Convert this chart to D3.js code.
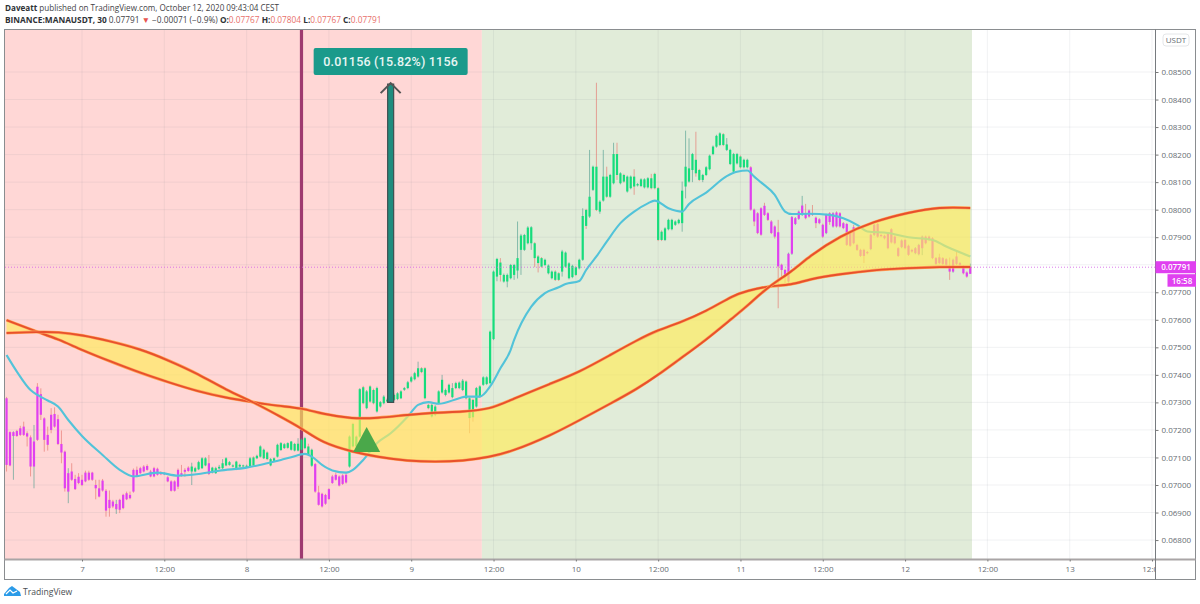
<!DOCTYPE html>
<html>
<head>
<meta charset="utf-8">
<script src="https://cdn.jsdelivr.net/npm/d3@7"></script>
<style>
	html, body { margin: 0; padding: 0; background: #fff; }
	svg { display: block; }
	text { font-family: "Open Sans", "Liberation Sans", sans-serif; }
	.tick text { fill: #666c72; font-size: 8px; }
	.tick line { stroke: #777; }
	.domain { display: none; }
</style>
</head>
<body>
<div id="target_area"></div>
<script>
// prices are in ticks (0.00001 USDT), bars are 30 minute candles counted from the left edge
var opens = [
	7315,7192,7178,7196,7206,7212,7188,7173,7067,7357,
	7330,7242,7182,7255,7258,7239,7149,7121,6976,7049,
	7022,7030,7019,7045,7045,7045,7000,6988,7016,6979,
	6946,6940,6912,6946,6964,6970,6964,7055,7055,7061,
	7067,7069,7049,7061,7059,7046,7039,7028,7013,7013,
	7055,7043,7055,7063,7049,7049,7057,7061,7071,7079,
	7045,7043,7060,7061,7071,7073,7067,7057,7067,7068,
	7066,7067,7100,7097,7103,7097,7118,7071,7088,7103,
	7127,7134,7135,7128,7125,7125,7128,7134,7140,7070,
	7076,6973,6968,6964,6985,7031,7037,7031,7035,7037,
	7067,7222,7176,7176,7355,7279,7358,7345,7267,7285,
	7297,7303,7305,7309,7312,7315,7346,7352,7376,7384,
	7394,7424,7424,7291,7249,7255,7297,7336,7327,7336,
	7319,7352,7352,7345,7376,7315,7309,7285,7321,7364,
	7367,7370,7530,7757,7808,7739,7739,7751,7763,7779,
	7854,7854,7878,7878,7878,7830,7824,7799,7769,7751,
	7775,7769,7775,7793,7751,7755,7791,7787,7818,7999,
	7975,8072,8156,7993,8033,8120,8047,8096,8202,8096,
	8126,8066,8078,8120,8088,8086,8081,8081,8114,8130,
	8078,7920,7890,7929,7929,7945,7951,7951,8084,8102,
	8144,8181,8144,8108,8126,8147,8202,8229,8235,8274,
	8217,8166,8138,8168,8193,8154,8154,8154,8000,7987,
	8005,8014,7987,7957,7939,7918,7800,7781,7739,7840,
	7948,7967,7981,7987,7997,7987,7971,7965,7945,7915,
	7987,7939,7990,7987,7951,7948,7915,7936,7872,7854,
	7854,7846,7857,7909,7948,7908,7905,7915,7929,7902,
	7860,7864,7890,7869,7854,7842,7838,7860,7902,7902,
	7896,7824,7827,7824,7820,7794,7775,7830,7806,7794,
	7772,7767
];
var closes = [
	7073,7071,7192,7178,7182,7182,7176,7067,7158,7164,
	7255,7164,7146,7200,7212,7149,7118,6988,7043,7019,
	6985,7007,7000,7013,7019,7019,6988,6958,6980,6907,
	6916,6922,6931,6910,6916,6948,6952,6976,7031,7043,
	7049,7055,7031,7031,7037,7039,7043,7013,6979,6979,
	6994,7035,7048,7051,7067,7061,7083,7097,7097,7040,
	7063,7061,7066,7079,7097,7083,7071,7085,7073,7071,
	7070,7097,7071,7106,7140,7128,7094,7094,7097,7146,
	7152,7148,7152,7158,7149,7150,7165,7170,7110,7128,
	6976,6928,6922,6932,6949,7007,7019,6998,7004,7009,
	7176,7140,7140,7348,7297,7340,7303,7297,7352,7301,
	7321,7310,7312,7327,7333,7340,7352,7373,7391,7406,
	7424,7410,7315,7279,7291,7285,7340,7382,7345,7364,
	7352,7370,7372,7379,7315,7243,7246,7352,7358,7391,
	7391,7557,7775,7821,7763,7763,7763,7799,7799,7824,
	7906,7908,7935,7936,7824,7806,7793,7818,7797,7775,
	7745,7745,7848,7844,7805,7796,7763,7818,7977,7941,
	8047,8156,7999,8029,8120,8047,8126,8202,8126,8132,
	8102,8120,8120,8084,8093,8110,8110,8114,8078,8078,
	7890,7890,7932,7963,7963,7957,7963,8069,8156,8150,
	8202,8132,8108,8126,8154,8196,8229,8268,8277,8235,
	8237,8217,8202,8202,8154,8181,8181,8000,7957,7915,
	7909,7981,7963,7915,7902,7794,7781,7757,7840,7973,
	7969,7993,8015,7969,7975,7981,7951,7951,7902,7981,
	7955,7987,7939,7939,7933,7872,7869,7878,7854,7832,
	7832,7842,7909,7945,7902,7904,7896,7860,7881,7878,
	7832,7888,7860,7836,7848,7860,7872,7902,7878,7890,
	7824,7803,7806,7803,7800,7775,7818,7803,7800,7769,
	7757,7791
];
var highs = [
	7320,7195,7195,7200,7215,7230,7195,7180,7218,7370,
	7351,7246,7212,7279,7282,7255,7198,7125,7061,7079,
	7037,7043,7037,7052,7052,7048,7019,7019,7022,6985,
	6980,6946,6946,6950,6968,6976,6976,7060,7067,7066,
	7072,7075,7055,7066,7063,7050,7046,7032,7017,7017,
	7060,7073,7061,7068,7081,7066,7088,7101,7101,7109,
	7066,7066,7073,7094,7101,7087,7075,7088,7077,7074,
	7074,7102,7104,7110,7144,7132,7122,7098,7100,7150,
	7156,7152,7155,7160,7153,7170,7170,7175,7150,7132,
	7080,6997,6972,6968,6988,7037,7045,7035,7039,7042,
	7180,7226,7180,7352,7360,7345,7362,7350,7357,7305,
	7326,7315,7318,7332,7337,7344,7356,7378,7396,7411,
	7448,7428,7428,7295,7295,7290,7344,7400,7350,7368,
	7370,7375,7376,7385,7380,7320,7313,7356,7362,7395,
	7395,7561,7779,7825,7824,7768,7768,7803,7803,7957,
	7912,7912,7940,7940,7882,7835,7828,7822,7801,7779,
	7780,7773,7854,7848,7809,7800,7795,7822,8005,8003,
	8217,8160,8461,8034,8217,8156,8130,8243,8243,8136,
	8130,8124,8124,8147,8097,8114,8114,8118,8130,8134,
	8082,7925,7936,7967,7967,7961,7967,8102,8287,8259,
	8206,8283,8148,8130,8158,8200,8233,8272,8281,8278,
	8260,8221,8206,8206,8197,8185,8185,8158,8004,7991,
	8009,8025,7991,7962,7943,7963,7804,7785,7844,7977,
	7973,7997,8050,8021,8001,8017,7975,7969,7949,7985,
	7991,7991,7994,7991,7955,7952,7919,7945,7876,7858,
	7858,7850,7913,7949,7952,7912,7909,7919,7933,7906,
	7864,7892,7894,7873,7858,7864,7876,7906,7906,7906,
	7900,7828,7840,7828,7824,7826,7822,7852,7810,7798,
	7776,7804
];
var lows = [
	7049,7068,7019,7175,7178,7178,7140,7031,6988,7160,
	7236,7121,7125,7188,7208,7145,7079,6976,6934,7015,
	6982,7003,6996,7010,7015,7015,6948,6955,6976,6885,
	6885,6916,6895,6898,6912,6945,6948,6972,7028,7040,
	7046,7052,7028,7028,7034,7036,7036,7010,6976,6976,
	6985,7030,7030,7048,7000,7046,7054,7058,7068,7036,
	7042,7040,7057,7058,7068,7070,7064,7054,7064,7066,
	7063,7064,7068,7094,7100,7094,7090,7068,7085,7100,
	7124,7131,7132,7125,7122,7122,7125,7130,7105,7066,
	6972,6925,6918,6928,6946,7004,7016,6995,7000,7005,
	7063,7136,7136,7172,7293,7275,7299,7293,7263,7281,
	7293,7300,7300,7305,7308,7312,7342,7348,7372,7380,
	7390,7406,7311,7275,7245,7250,7293,7332,7322,7332,
	7315,7348,7348,7341,7311,7188,7230,7281,7317,7360,
	7363,7366,7526,7740,7739,7735,7718,7747,7745,7750,
	7763,7850,7874,7854,7791,7772,7789,7795,7765,7747,
	7741,7741,7757,7789,7747,7751,7759,7783,7814,7930,
	7970,8068,7995,7985,8029,8043,8043,8092,8108,8092,
	8098,8062,8074,8054,8084,8082,8077,8077,8074,8074,
	7886,7886,7886,7925,7925,7941,7947,7920,8041,8098,
	8100,8120,8104,8100,8122,8143,8198,8225,8231,8231,
	8213,8162,8134,8164,8150,8150,8150,7996,7940,7911,
	7905,7977,7959,7911,7895,7642,7757,7733,7735,7836,
	7944,7963,7977,7965,7971,7977,7933,7947,7898,7911,
	7945,7935,7935,7935,7929,7868,7865,7874,7850,7828,
	7806,7838,7853,7905,7898,7900,7892,7856,7877,7874,
	7828,7860,7856,7832,7844,7838,7834,7835,7874,7886,
	7820,7799,7802,7799,7796,7745,7771,7799,7796,7765,
	7753,7767
];
// runs of bars painted magenta, the others are green
var magentaRuns = [[0, 53], [59, 59], [90, 99], [217, 281]];

var maBars = [0,3,7,9,12,15,18,22,28,33,37,44,50,56,62,70,76,80,83,87,89,92,95,99,101,104,108,112,117,120,123,126,132,134,138,141,144,147,148,153,157,161,163,167,169,172,175,179,183,187,189,193,197,199,204,210,213,216,218,220,224,227,229,234,240,244,248,251,257,263,270,274,281];
var maValues = [7472,7412,7345,7327,7307,7285,7236,7178,7109,7055,7031,7045,7034,7040,7052,7063,7079,7091,7101,7113,7103,7073,7053,7045,7055,7091,7152,7188,7249,7291,7301,7295,7315,7321,7321,7358,7424,7491,7527,7648,7697,7718,7730,7741,7781,7830,7884,7951,7993,8023,8033,8005,7993,8021,8062,8122,8138,8142,8120,8099,8054,7993,7984,7985,7981,7969,7945,7921,7915,7900,7890,7866,7830];

var ribbonBars = [0,9,15,22,30,39,47,56,64,72,79,86,92,101,108,117,125,133,141,147,159,167,176,184,190,196,204,212,216,222,229,234,243,253,263,272,281];
var ribbonFast = [7599,7556,7530,7490,7450,7407,7374,7339,7317,7301,7287,7280,7258,7240,7243,7255,7263,7266,7275,7309,7370,7410,7472,7527,7563,7588,7630,7690,7705,7723,7726,7748,7766,7781,7788,7792,7792];
var ribbonSlow = [7552,7556,7556,7545,7523,7494,7454,7403,7345,7301,7254,7207,7153,7120,7102,7087,7084,7087,7102,7120,7182,7235,7295,7350,7400,7455,7527,7610,7650,7720,7775,7830,7905,7958,7990,8010,8006];

var priceTicks = [6800,6900,7000,7100,7200,7300,7400,7500,7600,7700,7800,7900,8000,8100,8200,8300,8400,8500];
var timeTickBars = [22,46,70,94,118,142,166,190,214,238,262,286,310,334];
var timeTickLabels = ["7","12:00","8","12:00","9","12:00","10","12:00","11","12:00","12","12:00","13","12:00"];

var redZone = [-0.5, 138.6];
var greenZone = [138.6, 281.5];
var signalBar = 86;
var entryBar = 105;
var entryPrice = 7120;
var arrowBar = 112;
var arrowFrom = 7300;
var arrowTo = 8456;
var lastPrice = 7791;

var width = 1200, height = 604;
var plotLeft = 5, plotRight = 1155.5, plotTop = 29.5, plotBottom = 559.5, frameRight = 1195.5, frameBottom = 579.5;

var svg = d3.select("#target_area").append("svg")
	.attr("width", width)
	.attr("height", height);

var x = d3.scaleLinear().domain([22, 334]).range([82, 1152]);
var y = d3.scaleLinear().domain([7000, 8500]).range([485, 72]);

svg.append("clipPath").attr("id", "plot")
	.append("rect").attr("x", plotLeft).attr("y", plotTop).attr("width", plotRight - plotLeft).attr("height", plotBottom - plotTop);
svg.append("clipPath").attr("id", "timeAxis")
	.append("rect").attr("x", plotLeft).attr("y", plotBottom).attr("width", plotRight - plotLeft).attr("height", frameBottom - plotBottom);

var plot = svg.append("g").attr("clip-path", "url(#plot)");

// session backgrounds
plot.append("rect").attr("x", x(redZone[0])).attr("y", plotTop).attr("width", x(redZone[1]) - x(redZone[0])).attr("height", plotBottom - plotTop).attr("fill", "#ffd7d6");
plot.append("rect").attr("x", x(greenZone[0])).attr("y", plotTop).attr("width", x(greenZone[1]) - x(greenZone[0])).attr("height", plotBottom - plotTop).attr("fill", "#e1ecd9");

// grid
plot.selectAll(".hgrid").data(priceTicks).enter().append("line")
	.attr("x1", plotLeft).attr("x2", plotRight)
	.attr("y1", function(d) { return y(d); }).attr("y2", function(d) { return y(d); })
	.attr("stroke", "#7d8a96").attr("stroke-opacity", 0.11);
plot.selectAll(".vgrid").data(timeTickBars).enter().append("line")
	.attr("y1", plotTop).attr("y2", plotBottom)
	.attr("x1", function(d) { return x(d); }).attr("x2", function(d) { return x(d); })
	.attr("stroke", "#7d8a96").attr("stroke-opacity", 0.11);

// signal line sits under the ribbon
plot.append("line")
	.attr("x1", x(signalBar)).attr("x2", x(signalBar)).attr("y1", plotTop).attr("y2", plotBottom)
	.attr("stroke", "#9e3a70").attr("stroke-width", 3.2);

function isMagenta(i) {
	return magentaRuns.some(function(r) { return i >= r[0] && i <= r[1]; });
}

// candles
var candles = plot.append("g");
candles.selectAll(".wick").data(opens).enter().append("line")
	.attr("x1", function(d, i) { return x(i); }).attr("x2", function(d, i) { return x(i); })
	.attr("y1", function(d, i) { return y(highs[i]); })
	.attr("y2", function(d, i) { return y(lows[i]); })
	.attr("stroke", function(d, i) { return closes[i] >= d ? "#4e9e90" : "#e5736a"; })
	.attr("stroke-opacity", 0.7)
	.attr("stroke-width", 0.9);
candles.selectAll(".body").data(opens).enter().append("rect")
	.attr("x", function(d, i) { return x(i) - 1.1; })
	.attr("width", 2.2)
	.attr("y", function(d, i) { return y(Math.max(d, closes[i])); })
	.attr("height", function(d, i) { return Math.max(1, Math.abs(y(d) - y(closes[i]))); })
	.attr("fill", function(d, i) { return isMagenta(i) ? "#e040f0" : "#16dd7c"; });

// moving average
var maLine = d3.line()
	.x(function(d, i) { return x(maBars[i]); })
	.y(function(d) { return y(d); })
	.curve(d3.curveMonotoneX);
plot.append("path").attr("d", maLine(maValues))
	.attr("fill", "none").attr("stroke", "#52c3d9").attr("stroke-width", 2.1);

// last price line
plot.append("line")
	.attr("x1", plotLeft).attr("x2", plotRight).attr("y1", y(lastPrice)).attr("y2", y(lastPrice))
	.attr("stroke", "#d35ce8").attr("stroke-width", 0.8).attr("stroke-dasharray", "1,2");

// ribbon
var ribbon = d3.area()
	.x(function(d, i) { return x(ribbonBars[i]); })
	.y0(function(d) { return y(d); })
	.y1(function(d, i) { return y(ribbonSlow[i]); })
	.curve(d3.curveBasis);
plot.append("path").attr("d", ribbon(ribbonFast))
	.attr("fill", "#ffec5a").attr("fill-opacity", 0.66);

var ribbonLine = d3.line()
	.x(function(d, i) { return x(ribbonBars[i]); })
	.y(function(d) { return y(d); })
	.curve(d3.curveBasis);
[ribbonFast, ribbonSlow].forEach(function(values) {
	plot.append("path").attr("d", ribbonLine(values))
		.attr("fill", "none").attr("stroke", "#ffa65a").attr("stroke-width", 3);
	plot.append("path").attr("d", ribbonLine(values))
		.attr("fill", "none").attr("stroke", "#e8502c").attr("stroke-width", 1.9);
});

// entry triangle
var triX = x(entryBar), triY = y(entryPrice);
plot.append("path")
	.attr("d", "M" + (triX - 13.5) + "," + triY + "L" + triX + "," + (triY - 25) + "L" + (triX + 13.5) + "," + triY + "Z")
	.attr("fill", "#4aa84a");

// measure arrow and its label
var arrowX = x(arrowBar), arrowTop = y(arrowTo);
plot.append("rect")
	.attr("x", arrowX - 3).attr("width", 6)
	.attr("y", arrowTop).attr("height", y(arrowFrom) - arrowTop)
	.attr("fill", "#1f8c7e").attr("stroke", "#3f4f50").attr("stroke-width", 1.2);
plot.append("path")
	.attr("d", "M" + (arrowX - 10) + "," + (arrowTop + 9) + "L" + arrowX + "," + (arrowTop - 1) + "L" + (arrowX + 10) + "," + (arrowTop + 9))
	.attr("fill", "none").attr("stroke", "#555").attr("stroke-width", 2);
plot.append("rect")
	.attr("x", arrowX - 77).attr("y", arrowTop - 36).attr("width", 154).attr("height", 27).attr("rx", 2)
	.attr("fill", "#1a9a8b");
plot.append("text")
	.attr("x", arrowX).attr("y", arrowTop - 18)
	.attr("text-anchor", "middle").attr("fill", "#e8f6f3")
	.style("font-family", "Roboto").style("font-size", "12.5px").style("font-weight", 500).style("letter-spacing", "0.2px")
	.text("0.01156 (15.82%) 1156");

// frame
svg.append("rect").attr("x", 4.5).attr("y", plotTop).attr("width", frameRight - 4.5).attr("height", frameBottom - plotTop)
	.attr("fill", "none").attr("stroke", "#8a8d90").attr("stroke-width", 1);
svg.append("line").attr("x1", 4.5).attr("x2", frameRight).attr("y1", plotBottom).attr("y2", plotBottom)
	.attr("stroke", "#a9a5a6").attr("stroke-width", 1.8);
svg.append("line").attr("x1", plotRight).attr("x2", plotRight).attr("y1", plotTop).attr("y2", frameBottom)
	.attr("stroke", "#777b7f").attr("stroke-width", 1);

// axes
var priceAxis = d3.axisRight(y)
	.tickValues(priceTicks)
	.tickSize(3)
	.tickPadding(3)
	.tickFormat(function(d) { return (d / 100000).toFixed(5); });
svg.append("g").attr("transform", "translate(" + plotRight + ",0)").call(priceAxis);

var timeAxis = d3.axisBottom(x)
	.tickValues(timeTickBars)
	.tickSize(2)
	.tickPadding(5)
	.tickFormat(function(d, i) { return timeTickLabels[i]; });
svg.append("g").attr("clip-path", "url(#timeAxis)")
	.append("g").attr("transform", "translate(0," + plotBottom + ")").call(timeAxis);

// currency box
svg.append("rect").attr("x", 1163).attr("y", 34).attr("width", 26).attr("height", 12).attr("rx", 3)
	.attr("fill", "#fff").attr("stroke", "#e4e6e8");
svg.append("text").attr("x", 1176).attr("y", 43).attr("text-anchor", "middle")
	.attr("fill", "#666c72").style("font-size", "8px").text("USDT");

// last price tags
svg.append("rect").attr("x", plotRight).attr("y", y(lastPrice) - 6).attr("width", frameRight - plotRight + 0.5).attr("height", 12).attr("fill", "#e040f0");
svg.append("text").attr("x", 1176).attr("y", y(lastPrice) + 3).attr("text-anchor", "middle")
	.attr("fill", "#fff").style("font-size", "8px").style("font-weight", 600).text((lastPrice / 100000).toFixed(5));
svg.append("rect").attr("x", 1167.5).attr("y", y(lastPrice) + 7).attr("width", 28.5).attr("height", 12.5).attr("fill", "#e040f0");
svg.append("text").attr("x", 1182).attr("y", y(lastPrice) + 16.5).attr("text-anchor", "middle")
	.attr("fill", "#fff").style("font-size", "8px").style("font-weight", 600).text("16:58");

// header
var line1 = svg.append("text").attr("x", 5).attr("y", 11).attr("fill", "#3f4347").style("font-size", "8.1px");
line1.append("tspan").style("font-weight", 700).attr("fill", "#2e3236").text("Daveatt");
line1.append("tspan").text(" published on TradingView.com, October 12, 2020 09:43:04 CEST");

var line2 = svg.append("text").attr("x", 5).attr("y", 23).attr("fill", "#3f4347").style("font-size", "8.3px");
line2.append("tspan").style("font-weight", 700).attr("fill", "#2e3236").text("BINANCE:MANAUSDT, 30");
line2.append("tspan").text(" 0.07791 ");
line2.append("tspan").attr("fill", "#e8544e").text("▼");
line2.append("tspan").text(" −0.00071 (−0.9%) ");
[["O:", "0.07767"], ["H:", "0.07804"], ["L:", "0.07767"], ["C:", "0.07791"]].forEach(function(pair) {
	line2.append("tspan").style("font-weight", 700).attr("fill", "#2e3236").text(pair[0]);
	line2.append("tspan").attr("fill", "#e8706a").text(pair[1] + " ");
});

// footer logo and name
svg.append("path")
	.attr("d", "M4,596L4,594L9,588L12,586L16,589L20,592L21,596Z")
	.attr("fill", "#2b9be8");
svg.append("path")
	.attr("d", "M6,594L10,590L13,593L17,591")
	.attr("fill", "none").attr("stroke", "#fff").attr("stroke-width", 1.2);
svg.append("text").attr("x", 23).attr("y", 595).attr("fill", "#4a4e52").style("font-size", "8.6px").text("TradingView");
</script>
</body>
</html>
